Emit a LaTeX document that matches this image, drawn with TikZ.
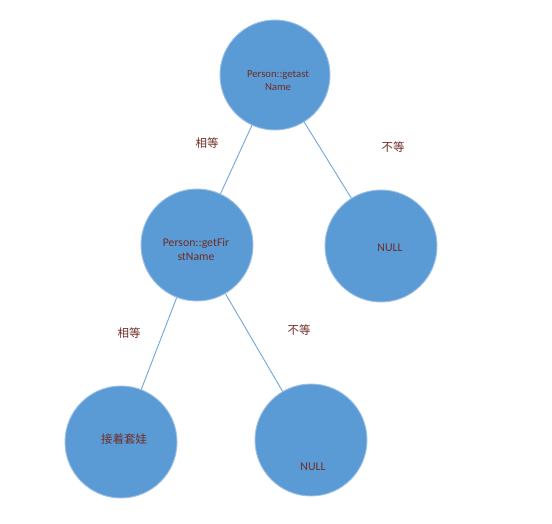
\documentclass[tikz,border=0pt]{standalone}
\usepackage{fontspec}
\setmainfont{Carlito}
\newfontfamily\cjk{Noto Sans CJK SC}
\definecolor{nodeblue}{HTML}{5B9BD5}
\definecolor{rimblue}{HTML}{9CBFE6}
\definecolor{edgeblue}{HTML}{6FA6DA}
\definecolor{txtred}{HTML}{6E2C26}
\begin{document}
\begin{tikzpicture}[x=1pt,y=-1pt,
  treenode/.style={circle,fill=nodeblue,draw=rimblue,line width=0.9pt,minimum size=112pt,inner sep=0pt},
  nodetext/.style={text=txtred,font=\fontsize{11.8}{14}\selectfont,align=center,inner sep=0pt},
  smalltext/.style={nodetext,font=\fontsize{10.7}{13}\selectfont},
  cjktext/.style={text=txtred,font=\cjk\fontsize{11.5}{13}\selectfont,inner sep=0pt},
  conn/.style={draw=edgeblue,line width=0.9pt}]
\useasboundingbox (0,0) rectangle (552,523);
\node[treenode,minimum size=110pt] (root) at (275,75) {};
\node[treenode] (first) at (197,245) {};
\node[treenode] (nullr) at (381,246) {};
\node[treenode] (nest) at (121,442) {};
\node[treenode] (nullb) at (311,440) {};
\draw[conn] (root) -- (first);
\draw[conn] (root) -- (nullr);
\draw[conn] (first) -- (nest);
\draw[conn] (first) -- (nullb);
\node[smalltext] (t1) at (278,81) {Person::getast\\Name};
\node[nodetext] (t2) at (196,249) {Person::getFir\\stName};
\node[nodetext] (t3) at (390,248) {NULL};
\node[cjktext] (t4) at (124,439) {接着套娃};
\node[nodetext] (t5) at (313,467) {NULL};
\node[cjktext] (l1) at (207,143) {相等};
\node[cjktext] (l2) at (393,147) {不等};
\node[cjktext] (l3) at (129,333) {相等};
\node[cjktext] (l4) at (299,330) {不等};
\end{tikzpicture}
\end{document}
